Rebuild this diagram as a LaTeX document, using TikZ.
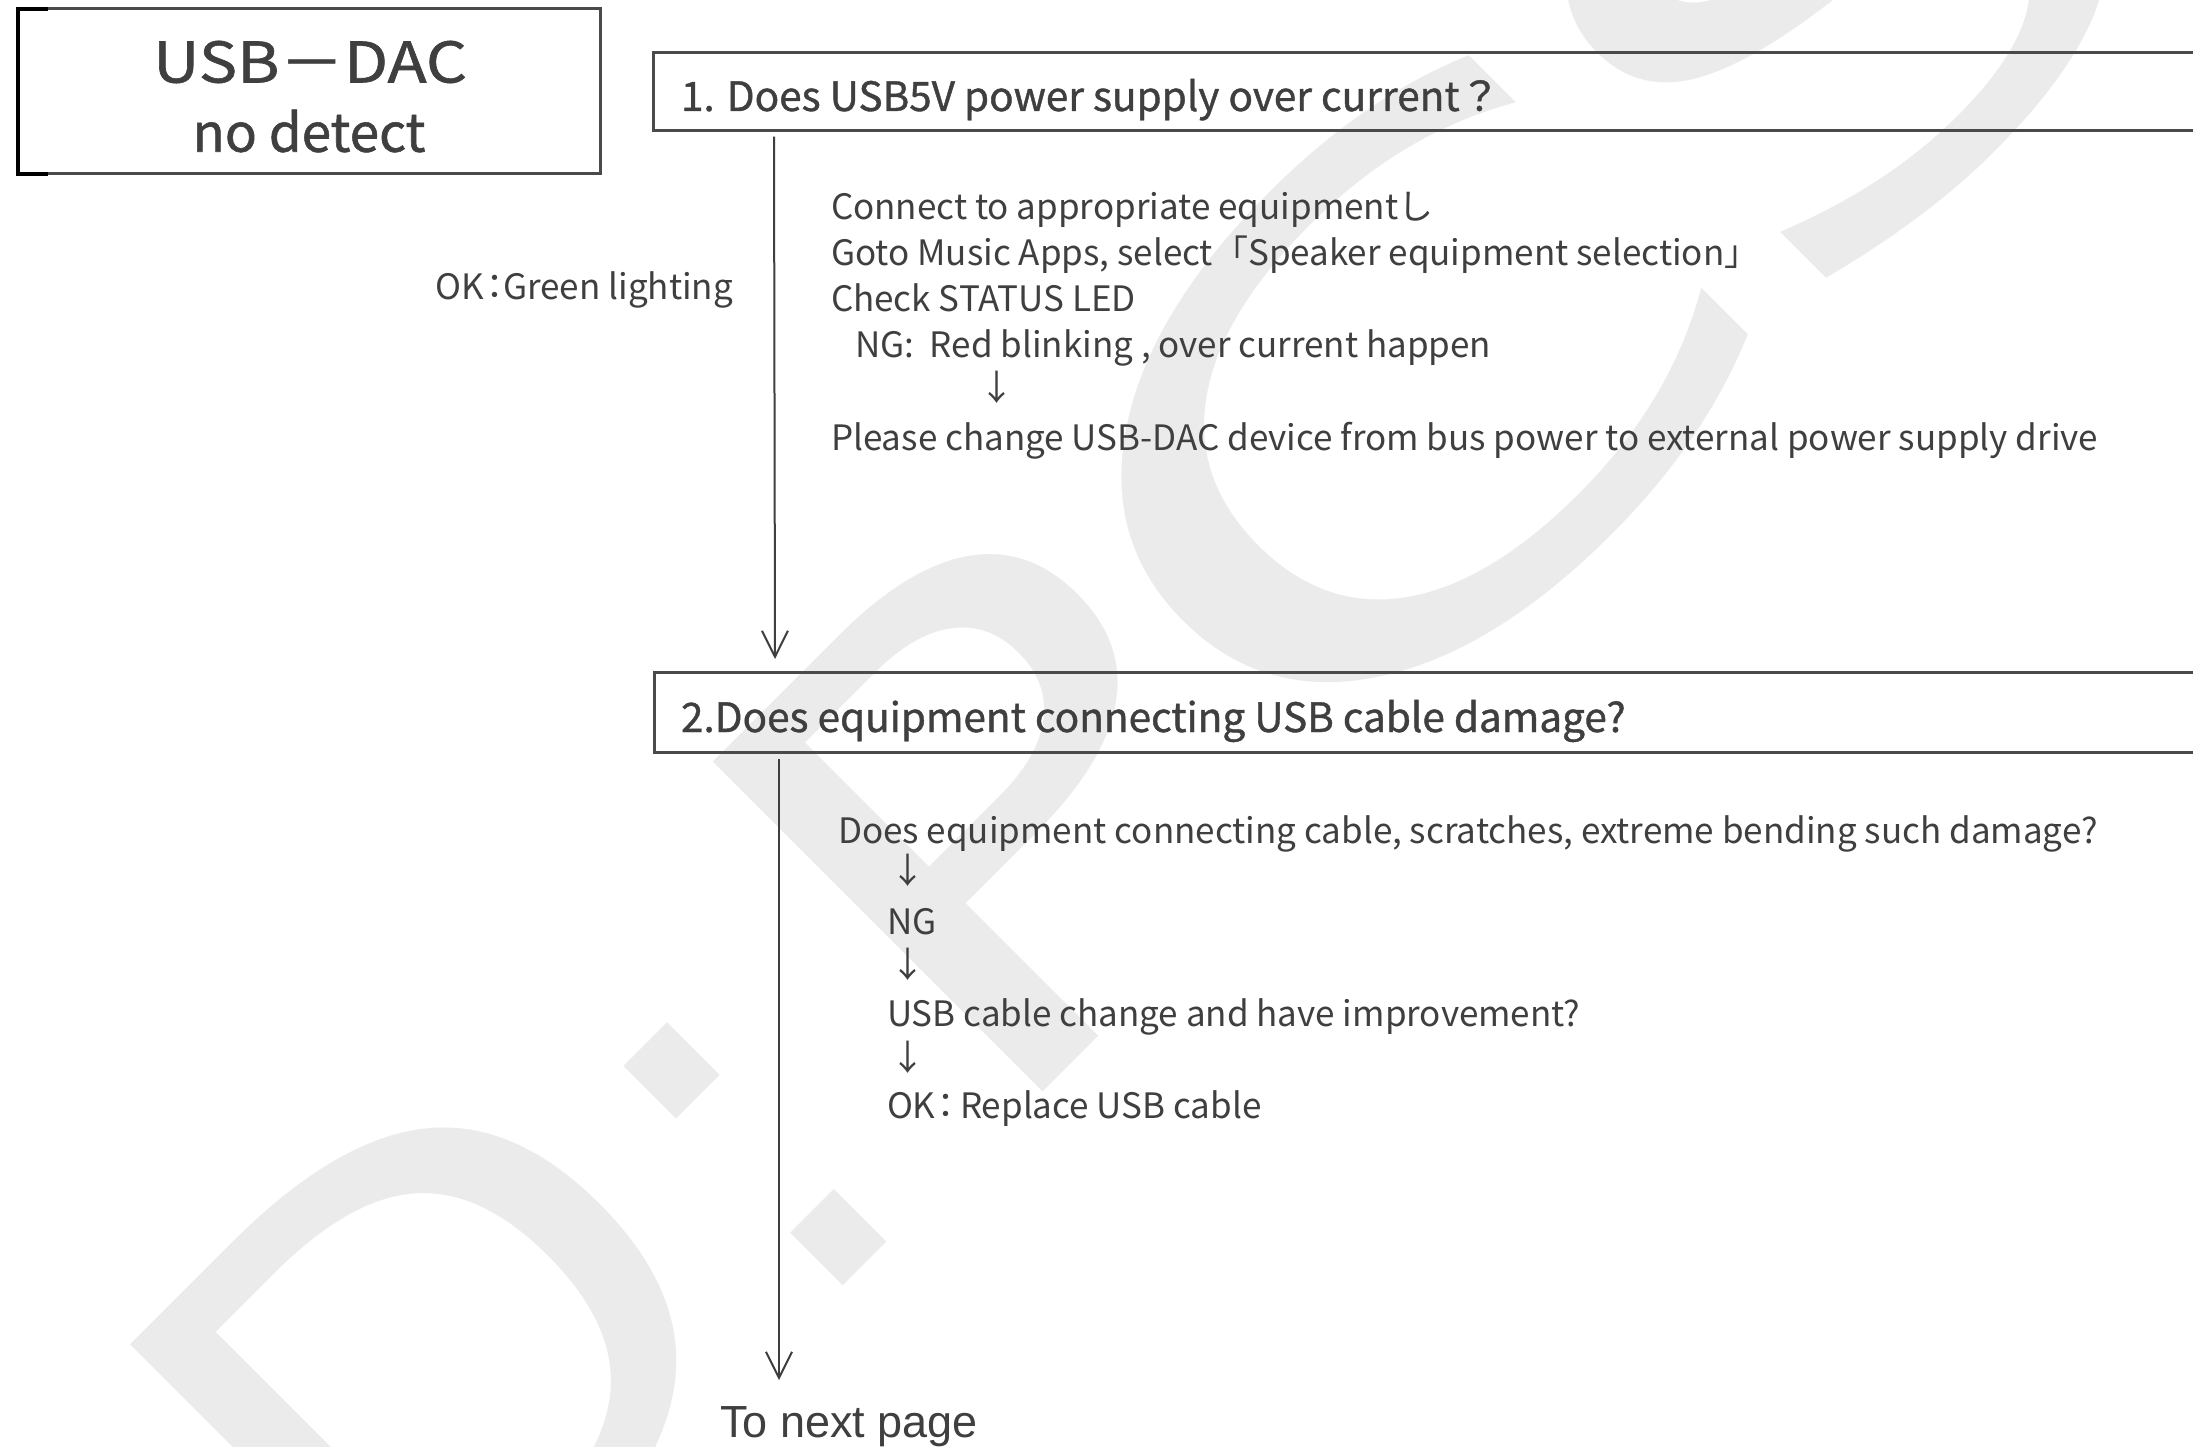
\documentclass[tikz,border=0pt]{standalone}
\usepackage{fontspec}
\usepackage{graphicx}
\setmainfont{Noto Sans CJK JP}
\newfontfamily\headfont{Noto Sans CJK JP}[FakeBold=1]
\newfontfamily\arialfont{Liberation Sans}
\newfontfamily\markfont{DejaVu Sans}
\usetikzlibrary{arrows.meta}
\definecolor{ink}{HTML}{3F3F3F}
\definecolor{rule}{HTML}{4A4A4A}
\definecolor{wmgray}{HTML}{EBEBEB}
\begin{document}
\begin{tikzpicture}[x=1pt,y=-1pt,
  every node/.style={inner sep=0pt,outer sep=0pt},
  txt/.style={text=ink,font=\fontsize{35}{40}\selectfont,anchor=base west},
  headtxt/.style={text=ink,font=\headfont\fontsize{40.5}{48}\selectfont,anchor=base west},
  titletxt/.style={text=ink,font=\headfont\fontsize{56}{64}\selectfont},
  qbox/.style={draw=rule,line width=3pt,anchor=north west,minimum width=1600pt},
  flow/.style={draw=ink,line width=2pt,-{Straight Barb[length=26pt,width=26pt,line width=2pt]}},
  wmark/.style={text=wmgray,font=\markfont\fontsize{640}{640}\selectfont,rotate=45},
  wdot/.style={text=wmgray,font=\markfont\fontsize{600}{600}\selectfont,rotate=45}
]
\fill[white] (0,0) rectangle (2193,1447);
\useasboundingbox (0,0) rectangle (2193,1447);

% faint background watermark, one letter at a time along a 45 degree line
\node[wmark] (wI) at (166,1639) {I};
\node[wmark,xscale=1.1] (wD) at (438,1367) {D};
\node[wdot]  (wcolon) at (755,1154) {:};
\node[wmark,xscale=1.25] (wP) at (993,812) {P};
\node[wmark,xscale=1.6] (wC) at (1396,409) {C};
\node[wmark,xscale=1.4] (wS) at (1834,-29) {S};

% title box
\node[draw=rule,line width=3pt,anchor=north west,minimum width=582pt,minimum height=165pt] (title) at (18,9) {};
\draw[black,line width=4pt] ([xshift=30pt]title.north west) -- (title.north west)
  -- (title.south west) -- ([xshift=30pt]title.south west);
\node[titletxt] (t1) at (310,62) {\scalebox{1.15}[1]{USB－DAC}};
\node[titletxt,font=\headfont\fontsize{53}{60}\selectfont] (t2) at (309,131) {no detect};

% question 1
\node[qbox,minimum height=78pt] (q1) at (653,52.6) {};
\node[headtxt] (q1t) at (681,111) {1. Does USB5V power supply over current？};
\node[txt,anchor=base east] (ok1) at (733,300) {OK\hspace{-0.2em}：\hspace{-0.25em}Green lighting};
\node[txt] (s1) at (831,220) {Connect to appropriate equipmentし};
\node[txt] (s2) at (831,266) {Goto Music Apps, select「Speaker equipment selection」};
\node[txt] (s3) at (831,312) {Check STATUS LED};
\node[txt] (s4) at (855,358) {NG:\ \ Red blinking , over current happen};
\node[txt,anchor=base] (s5) at (997,400) {↓};
\node[txt] (s6) at (831,450) {Please change USB-DAC device from bus power to external power supply drive};

% question 2
\node[qbox,minimum height=80pt] (q2) at (654,672) {};
\node[headtxt] (q2t) at (681,732) {2.Does equipment connecting USB cable damage?};
\node[txt] (c1) at (838,843) {Does equipment connecting cable, scratches, extreme bending such damage?};
\node[txt,anchor=base] (c2) at (908,883) {↓};
\node[txt] (c3) at (887,934) {NG};
\node[txt,anchor=base] (c4) at (908,977) {↓};
\node[txt] (c5) at (887,1026) {USB cable change and have improvement?};
\node[txt,anchor=base] (c6) at (908,1070) {↓};
\node[txt] (c7) at (887,1118) {OK\hspace{-0.2em}：\hspace{-0.1em}Replace USB cable};

\node[text=ink,font=\arialfont\fontsize{45}{50}\selectfont,anchor=base] (next) at (849,1437) {To next page};

% connectors
\draw[flow] ([xshift=121pt,yshift=-6pt]q1.south west) -- ([xshift=121pt,yshift=13pt]q2.north west);
\draw[flow,shorten >=26pt] ([xshift=125pt,yshift=-7pt]q2.south west) coordinate (a2s) -- (a2s |- next.north);
\end{tikzpicture}
\end{document}
